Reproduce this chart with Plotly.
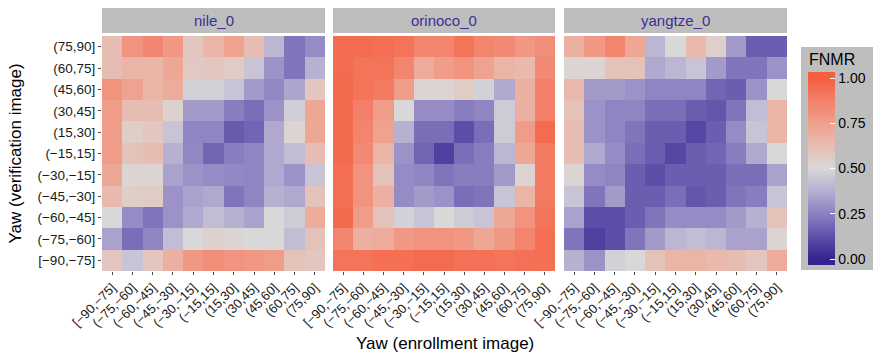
import plotly.graph_objects as go

# Yaw bins (enrollment on x, verification on y)
yaw_bins = ["[−90,−75]", "(−75,−60]", "(−60,−45]", "(−45,−30]", "(−30,−15]",
            "(−15,15]", "(15,30]", "(30,45]", "(45,60]", "(60,75]", "(75,90]"]

panels = ["nile_0", "orinoco_0", "yangtze_0"]

# FNMR per algorithm; rows listed from (75,90] (top) down to [−90,−75] (bottom)
nile_0 = [
    [0.62, 0.80, 0.85, 0.78, 0.58, 0.66, 0.74, 0.62, 0.40, 0.22, 0.28],
    [0.62, 0.66, 0.66, 0.72, 0.57, 0.58, 0.56, 0.44, 0.30, 0.22, 0.38],
    [0.80, 0.74, 0.66, 0.70, 0.48, 0.48, 0.44, 0.32, 0.27, 0.35, 0.58],
    [0.76, 0.62, 0.62, 0.53, 0.32, 0.32, 0.24, 0.20, 0.30, 0.47, 0.72],
    [0.76, 0.55, 0.58, 0.44, 0.26, 0.26, 0.15, 0.18, 0.36, 0.52, 0.72],
    [0.76, 0.60, 0.62, 0.38, 0.27, 0.18, 0.24, 0.26, 0.36, 0.42, 0.62],
    [0.72, 0.52, 0.52, 0.34, 0.30, 0.28, 0.27, 0.26, 0.36, 0.30, 0.44],
    [0.64, 0.55, 0.56, 0.30, 0.34, 0.36, 0.22, 0.26, 0.38, 0.36, 0.60],
    [0.50, 0.28, 0.22, 0.30, 0.36, 0.42, 0.38, 0.34, 0.50, 0.46, 0.70],
    [0.34, 0.20, 0.26, 0.42, 0.50, 0.53, 0.52, 0.50, 0.50, 0.42, 0.60],
    [0.58, 0.44, 0.58, 0.68, 0.78, 0.82, 0.80, 0.78, 0.76, 0.60, 0.58],
]

orinoco_0 = [
    [0.95, 0.95, 0.94, 0.92, 0.86, 0.86, 0.92, 0.86, 0.84, 0.78, 0.82],
    [0.95, 0.92, 0.92, 0.86, 0.70, 0.76, 0.80, 0.74, 0.66, 0.64, 0.84],
    [0.96, 0.92, 0.90, 0.76, 0.52, 0.52, 0.56, 0.48, 0.36, 0.68, 0.88],
    [0.96, 0.88, 0.76, 0.50, 0.28, 0.28, 0.24, 0.26, 0.46, 0.68, 0.88],
    [0.96, 0.86, 0.74, 0.38, 0.20, 0.20, 0.12, 0.20, 0.46, 0.76, 0.95],
    [0.96, 0.84, 0.66, 0.30, 0.18, 0.08, 0.20, 0.24, 0.40, 0.72, 0.90],
    [0.94, 0.80, 0.60, 0.28, 0.26, 0.22, 0.24, 0.24, 0.32, 0.52, 0.90],
    [0.94, 0.80, 0.68, 0.28, 0.32, 0.30, 0.20, 0.22, 0.44, 0.66, 0.90],
    [0.96, 0.76, 0.60, 0.48, 0.44, 0.50, 0.46, 0.44, 0.72, 0.80, 0.92],
    [0.86, 0.68, 0.70, 0.78, 0.80, 0.80, 0.78, 0.72, 0.78, 0.86, 0.94],
    [0.92, 0.92, 0.94, 0.94, 0.95, 0.95, 0.93, 0.93, 0.92, 0.93, 0.94],
]

yangtze_0 = [
    [0.68, 0.78, 0.86, 0.72, 0.40, 0.50, 0.64, 0.54, 0.32, 0.16, 0.16],
    [0.52, 0.52, 0.60, 0.60, 0.36, 0.40, 0.44, 0.32, 0.22, 0.22, 0.30],
    [0.64, 0.32, 0.32, 0.30, 0.26, 0.26, 0.26, 0.18, 0.16, 0.30, 0.50],
    [0.60, 0.30, 0.26, 0.26, 0.20, 0.20, 0.16, 0.14, 0.22, 0.42, 0.66],
    [0.62, 0.30, 0.26, 0.22, 0.16, 0.16, 0.10, 0.16, 0.28, 0.44, 0.66],
    [0.62, 0.36, 0.28, 0.20, 0.16, 0.10, 0.16, 0.18, 0.24, 0.36, 0.50],
    [0.52, 0.28, 0.26, 0.16, 0.12, 0.16, 0.16, 0.16, 0.20, 0.20, 0.34],
    [0.44, 0.22, 0.32, 0.16, 0.16, 0.20, 0.14, 0.16, 0.22, 0.24, 0.44],
    [0.34, 0.12, 0.12, 0.16, 0.22, 0.28, 0.28, 0.28, 0.32, 0.38, 0.60],
    [0.22, 0.08, 0.12, 0.22, 0.32, 0.40, 0.42, 0.40, 0.34, 0.34, 0.52],
    [0.38, 0.30, 0.48, 0.50, 0.60, 0.66, 0.66, 0.64, 0.62, 0.58, 0.70],
]

legend_ticks = [0.0, 0.25, 0.5, 0.75, 1.0]

W, H = 876, 352
FONT = "Liberation Sans, Arial, sans-serif"

# panel geometry in pixels
panel_x = [(102, 325), (333, 555), (564, 787)]
plot_top, plot_bottom = 36, 271
strip_top, strip_bottom = 8, 33

# legend box and bar geometry in pixels
legend_box = (801, 47, 873, 270)
bar_left, bar_top, bar_bottom, bar_width = 808, 72, 265, 27
tick_top, tick_bottom = 78, 259   # where FNMR 1.00 and 0.00 sit on the bar


def px_x(p):
    return p / W


def px_y(p):
    return 1 - p / H


# the bar runs a little past 0 and 1, so widen the colour range to match
per_px = 1.0 / (tick_bottom - tick_top)
cmin = -(bar_bottom - tick_bottom) * per_px
cmax = 1 + (tick_top - bar_top) * per_px

base_stops = [
    (0.0, "#33248f"),
    (0.125, "#6050a9"),
    (0.25, "#8d80c1"),
    (0.375, "#b5aed1"),
    (0.5, "#d9d8d8"),
    (0.625, "#e8bcb1"),
    (0.75, "#efa08c"),
    (0.875, "#f3806a"),
    (1.0, "#f55f3e"),
]
colorscale = [[0.0, base_stops[0][1]]]
for v, c in base_stops:
    colorscale.append([(v - cmin) / (cmax - cmin), c])
colorscale.append([1.0, base_stops[-1][1]])

fig = go.Figure()

y_top_down = yaw_bins[::-1]
for i, (name, z) in enumerate(zip(panels, [nile_0, orinoco_0, yangtze_0])):
    suffix = "" if i == 0 else str(i + 1)
    fig.add_trace(go.Heatmap(
        x=yaw_bins, y=y_top_down, z=z, coloraxis="coloraxis",
        xaxis="x" + suffix, yaxis="y" + suffix,
        hovertemplate="%{x}<br>%{y}<br>FNMR=%{z}<extra>" + name + "</extra>",
    ))
    x0, x1 = panel_x[i]
    fig.update_layout(**{
        "xaxis" + suffix: dict(
            domain=[px_x(x0), px_x(x1)], anchor="y" + suffix,
            type="category", categoryorder="array", categoryarray=yaw_bins,
            tickangle=-45, ticks="outside", ticklen=3, tickcolor="#4d4d4d",
            tickfont=dict(family=FONT, size=13, color="#1a1a1a"),
            showgrid=False, zeroline=False, showline=False, automargin=False,
        ),
        "yaxis" + suffix: dict(
            domain=[px_y(plot_bottom), px_y(plot_top)], anchor="x" + suffix,
            type="category", categoryorder="array", categoryarray=yaw_bins,
            ticks="outside" if i == 0 else "", ticklen=3, tickcolor="#4d4d4d",
            showticklabels=(i == 0),
            tickfont=dict(family=FONT, size=13.5, color="#1a1a1a"),
            showgrid=False, zeroline=False, showline=False, automargin=False,
        ),
    })
    # facet strip
    fig.add_shape(type="rect", xref="paper", yref="paper",
                  x0=px_x(x0), x1=px_x(x1), y0=px_y(strip_bottom), y1=px_y(strip_top),
                  fillcolor="#bebebe", line=dict(width=0), layer="below")
    fig.add_annotation(x=px_x((x0 + x1) / 2), y=px_y((strip_top + strip_bottom) / 2),
                       xref="paper", yref="paper", text=name, showarrow=False,
                       xanchor="center", yanchor="middle",
                       font=dict(family=FONT, size=15, color="#3d2f96"))

# axis titles
fig.add_annotation(x=px_x(445), y=px_y(343), xref="paper", yref="paper",
                   text="Yaw (enrollment image)", showarrow=False,
                   xanchor="center", yanchor="middle",
                   font=dict(family=FONT, size=17, color="#000000"))
fig.add_annotation(x=px_x(15), y=px_y((plot_top + plot_bottom) / 2), xref="paper", yref="paper",
                   text="Yaw (verification image)", showarrow=False, textangle=-90,
                   xanchor="center", yanchor="middle",
                   font=dict(family=FONT, size=17, color="#000000"))

# legend box and title
fig.add_shape(type="rect", xref="paper", yref="paper",
              x0=px_x(legend_box[0]), x1=px_x(legend_box[2]),
              y0=px_y(legend_box[3]), y1=px_y(legend_box[1]),
              fillcolor="#bebebe", line=dict(width=0), layer="below")
fig.add_annotation(x=px_x(807), y=px_y(60), xref="paper", yref="paper",
                   text="FNMR", showarrow=False, xanchor="left", yanchor="middle",
                   font=dict(family=FONT, size=16, color="#000000"))

fig.update_layout(
    width=W, height=H,
    margin=dict(l=0, r=0, t=0, b=0),
    paper_bgcolor="white", plot_bgcolor="#ebebeb",
    font=dict(family=FONT, color="#1a1a1a"),
    coloraxis=dict(
        cmin=cmin, cmax=cmax, colorscale=colorscale,
        colorbar=dict(
            tickvals=legend_ticks, ticktext=[f"{v:.2f}" for v in legend_ticks],
            tickfont=dict(family=FONT, size=14, color="#000"),
            ticks="inside", ticklen=5, tickcolor="white",
            thickness=bar_width, thicknessmode="pixels",
            len=bar_bottom - bar_top, lenmode="pixels",
            x=px_x(bar_left), xanchor="left", xpad=0,
            y=px_y((bar_top + bar_bottom) / 2), yanchor="middle", ypad=0,
            outlinewidth=0,
        ),
    ),
)

fig.write_html("out.html")
